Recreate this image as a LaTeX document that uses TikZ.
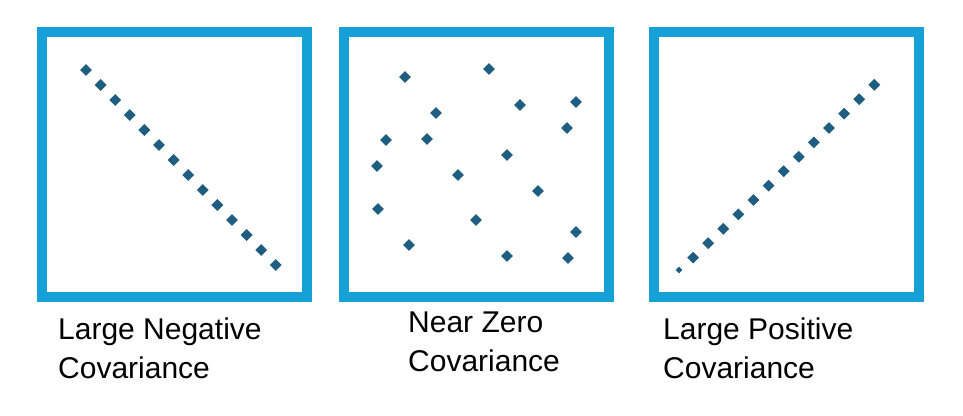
\documentclass[tikz,border=0pt]{standalone}
\usepackage{fontspec}
\setmainfont{Liberation Sans}
\usetikzlibrary{positioning}
\usetikzlibrary{shapes.geometric}
\definecolor{frameblue}{RGB}{22,160,216}
\definecolor{dotteal}{RGB}{31,94,128}
\begin{document}
\begin{tikzpicture}[x=1pt,y=-1pt,
		frame/.style={draw=frameblue,line width=10pt,minimum size=265pt,inner sep=0pt},
		dot/.style={diamond,fill=dotteal,inner sep=0pt,minimum size=12pt},
		caption/.style={align=left,anchor=north west,font=\fontsize{30}{39}\selectfont,inner sep=0pt}]
		\useasboundingbox (0,0) rectangle (963,415);
		
		\node[frame] (F_neg)  at (174,164) {};
		\node[frame] (F_zero) at (476,164) {};
		\node[frame] (F_pos)  at (786,164) {};
		
		\foreach \i in {0,...,13}
		\node[dot] (N_\i) at ({86+14.6*\i},{70+15*\i}) {};
		
		\node[dot,minimum size=7pt] (P_0) at (679,270) {};
		\foreach \i in {1,...,13}
		\node[dot] (P_\i) at ({678+15.1*\i},{272-14.4*\i}) {};
		
		\foreach \x/\y [count=\k] in {405/77,489/69,520/105,576/102,436/113,386/140,427/139,567/128,
			507/155,377/166,458/175,538/191,378/209,476/220,576/232,409/245,507/256,568/258}
		\node[dot] (Z_\k) at (\x,\y) {};
		
		\node[caption] (T_neg)  at (58,318)  {Large Negative\\Covariance};
		\node[caption] (T_zero) at (408,312) {Near Zero\\Covariance};
		\node[caption] (T_pos)  at (663,318) {Large Positive\\Covariance};
\end{tikzpicture}
\end{document}
